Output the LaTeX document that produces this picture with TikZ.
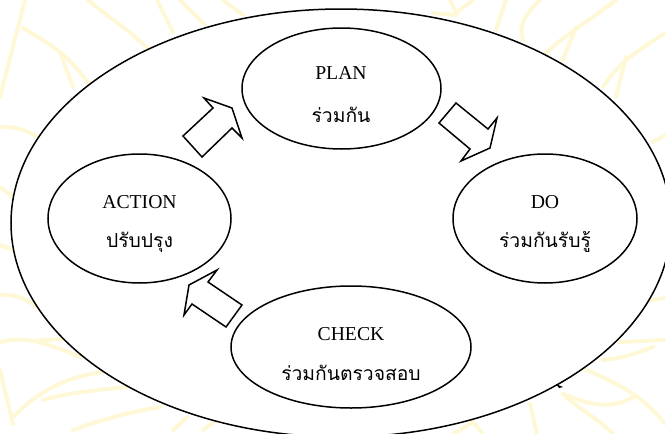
\documentclass[tikz,border=0pt]{standalone}
\usepackage{fontspec}
\setmainfont{Liberation Serif}
\newfontfamily\thaifont[Script=Thai]{Loma}
\definecolor{bgyellow}{HTML}{FFF8D6}
\tikzset{
  bgline/.style={draw=bgyellow,line width=4pt,line cap=round,line join=round},
  cyc/.style={ellipse,draw=black,line width=1.5pt,fill=white,inner sep=0pt,align=center},
  blockarrow/.style={draw=black,line width=1.5pt,fill=white,line join=miter},
  lbl/.style={font=\fontsize{19.7}{22}\selectfont},
  thai/.style={font=\fontsize{19.3}{22}\thaifont}
}
\usetikzlibrary{shapes.geometric}
\begin{document}
\begin{tikzpicture}[x=1pt,y=-1pt]
\useasboundingbox (0,0) rectangle (665,434);
\fill[white] (0,0) rectangle (665,434);
\begin{scope}
\clip (0,0) rectangle (665,434);
\draw[bgline] (25,0) -- (0,97);
\draw[bgline] (23,28) .. controls (45,42) and (65,50) .. (88,83);
\draw[bgline] (60,52) -- (73,87);
\draw[bgline] (88,0) .. controls (105,15) and (130,30) .. (147,48);
\draw[bgline] (157,0) -- (173,32);
\draw[bgline] (180,0) -- (205,25);
\draw[bgline] (223,0) -- (243,15);
\draw[bgline] (0,127) .. controls (15,126) and (25,130) .. (38,137);
\draw[bgline] (0,187) -- (13,197);
\draw[bgline] (450,0) -- (456,13) -- (473,0);
\draw[bgline] (433,13) -- (456,15);
\draw[bgline] (506,0) -- (496,30);
\draw[bgline] (540,0) .. controls (525,15) and (518,25) .. (523,40);
\draw[bgline] (616,0) .. controls (590,20) and (565,35) .. (546,53);
\draw[bgline] (576,27) -- (563,60);
\draw[bgline] (665,33) .. controls (640,50) and (620,60) .. (603,87);
\draw[bgline] (626,57) -- (616,97);
\draw[bgline] (653,142) -- (665,135);
\draw[bgline] (0,245) -- (13,250);
\draw[bgline] (0,295) .. controls (12,294) and (25,297) .. (37,307);
\draw[bgline] (0,342) .. controls (30,335) and (50,345) .. (80,357);
\draw[bgline] (40,340) .. controls (55,340) and (70,338) .. (65,340);
\draw[bgline] (0,370) -- (13,424);
\draw[bgline] (13,417) .. controls (35,395) and (60,378) .. (103,372);
\draw[bgline] (43,400) .. controls (70,392) and (100,390) .. (127,387);
\draw[bgline] (73,430) .. controls (100,420) and (130,412) .. (160,407);
\draw[bgline] (173,430) -- (187,417);
\draw[bgline] (203,430) -- (217,420);
\draw[bgline] (650,300) -- (665,298);
\draw[bgline] (620,342) -- (665,340);
\draw[bgline] (603,360) .. controls (625,358) and (640,352) .. (653,347);
\draw[bgline] (586,370) .. controls (610,380) and (640,392) .. (665,424);
\draw[bgline] (563,394) .. controls (580,410) and (600,420) .. (613,434);
\draw[bgline] (563,394) .. controls (590,405) and (610,410) .. (633,397);
\draw[bgline] (530,404) -- (537,434);
\draw[bgline] (453,434) -- (473,422) -- (483,434);
\end{scope}
\node[cyc,minimum width=660pt,minimum height=428pt] (outer) at (341,223) {};
\node[cyc,minimum width=199pt,minimum height=121pt] (plan) at (341.5,88.5) {};
\node[cyc,minimum width=183pt,minimum height=129pt] (action) at (139.5,218.5) {};
\node[cyc,minimum width=184pt,minimum height=129pt] (do) at (545,218.5) {};
\node[cyc,minimum width=240pt,minimum height=122pt] (check) at (351,347) {};
\node[lbl] (plant) at (341,73) {PLAN};
\node[thai] (planb) at (341,115) {ร่วมกัน};
\node[lbl] (actiont) at (139.5,202) {ACTION};
\node[thai] (actionb) at (139.5,242) {ปรับปรุง};
\node[lbl] (dot) at (545,202) {DO};
\node[thai] (dob) at (545,242) {ร่วมกันรับรู้};
\node[lbl] (checkt) at (351,334) {CHECK};
\node[thai] (checkb) at (351,373) {ร่วมกันตรวจสอบ};
\draw[blockarrow] (183,136) -- (202,157) -- (232,128) -- (242,138) -- (232,108) -- (204,98) -- (213,108) -- cycle;
\draw[blockarrow] (439,123) -- (456,103) -- (488,129) -- (497,118) -- (490,148) -- (461,161) -- (470,149) -- cycle;
\draw[blockarrow] (242,305) -- (226,327) -- (192,304) -- (184,315) -- (189,285) -- (217,270) -- (208,282) -- cycle;
\fill[black] (556,384) -- (563,387) -- (559,388) -- cycle;
\end{tikzpicture}
\end{document}
